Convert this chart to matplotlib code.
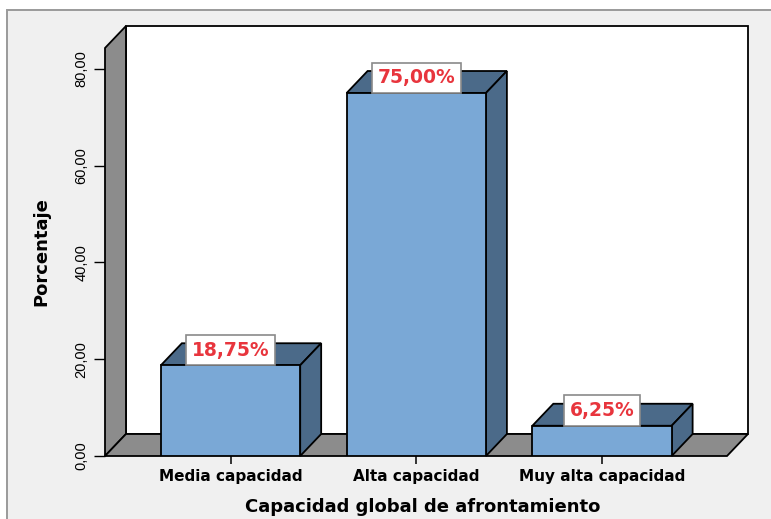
import matplotlib.pyplot as plt
from matplotlib.patches import Polygon, Rectangle

# Capacidad global de afrontamiento (% de casos)
categories = ["Media capacidad", "Alta capacidad", "Muy alta capacidad"]
percentages = [18.75, 75.00, 6.25]
y_ticks = [0, 20, 40, 60, 80]

FRONT = "#7aa8d6"
SHADE = "#4b6a89"
WALL = "#8c8c8c"
BG = "#f0f0f0"
RED = "#e8353d"

W = 771 / 100
H = 519 / 100
fig = plt.figure(figsize=(W, H), dpi=100, facecolor="white")

# outer panel frame
fig.patches.append(Rectangle((7 / 771, -0.1), 1.2, (519 - 10) / 519 + 0.1,
                             transform=fig.transFigure, facecolor=BG,
                             edgecolor="#9a9a9a", linewidth=1.4, zorder=-5))

ax = fig.add_axes([105 / 771, 63 / 519, 622 / 771, 408 / 519])
ax.set_zorder(1)
ax.patch.set_visible(False)
for s in ax.spines.values():
    s.set_visible(False)

x = list(range(len(categories)))
x0, x1 = -0.676, 2.673
ymax = 84.3
ax.set_xlim(x0, x1)
ax.set_ylim(0, ymax)

# depth of the pseudo-3D effect, in data units
dx = 21 / 186
dy = 22 / 4.84

# walls: back plane, left wall, floor
ax.add_patch(Rectangle((x0 + dx, dy), x1 - x0, ymax, facecolor="white",
                       edgecolor="black", lw=1.3, clip_on=False, zorder=1))
ax.add_patch(Polygon([(x0, 0), (x0 + dx, dy), (x0 + dx, ymax + dy), (x0, ymax)],
                     facecolor=WALL, edgecolor="black", lw=1.3,
                     clip_on=False, zorder=2))
ax.add_patch(Polygon([(x0, 0), (x1, 0), (x1 + dx, dy), (x0 + dx, dy)],
                     facecolor=WALL, edgecolor="black", lw=1.3,
                     clip_on=False, zorder=2))

bw = 0.75
bars = ax.bar(x, percentages, width=bw, color=FRONT, edgecolor="black",
              linewidth=1.3, zorder=4)

for xi, v in zip(x, percentages):
    l, r = xi - bw / 2, xi + bw / 2
    ax.add_patch(Polygon([(l, v), (r, v), (r + dx, v + dy), (l + dx, v + dy)],
                         facecolor=SHADE, edgecolor="black", lw=1.3,
                         clip_on=False, zorder=3))
    ax.add_patch(Polygon([(r, 0), (r + dx, dy), (r + dx, v + dy), (r, v)],
                         facecolor=SHADE, edgecolor="black", lw=1.3,
                         clip_on=False, zorder=3))
    ax.annotate(f"{v:.2f}".replace(".", ",") + "%", xy=(xi, v),
                xytext=(0, 4.1), textcoords="offset points",
                ha="center", va="bottom", fontsize=13.5, fontweight="bold",
                color=RED, family="DejaVu Sans", zorder=6,
                bbox=dict(boxstyle="square,pad=0.3", facecolor="white",
                          edgecolor="#8a8a8a", linewidth=1.2))

ax.set_xticks(x)
ax.set_xticklabels(categories, fontsize=11, fontweight="bold",
                   family="DejaVu Sans")
ax.tick_params(axis="x", length=6, width=1.1, pad=3, color="black")

ax.set_yticks(y_ticks)
ax.set_yticklabels([f"{t:.2f}".replace(".", ",") for t in y_ticks],
                   fontsize=10.5, family="Liberation Sans", rotation=90,
                   va="center")
ax.tick_params(axis="y", length=8, width=1.0, pad=4, color="black")

ax.set_xlabel("Capacidad global de afrontamiento", fontsize=13,
              fontweight="bold", family="DejaVu Sans", va="center")
ax.xaxis.set_label_coords((422.5 - 105) / 622, (456 - 507) / 408)
ax.set_ylabel("Porcentaje", fontsize=13, fontweight="bold",
              family="DejaVu Sans", va="center")
ax.yaxis.set_label_coords((41 - 105) / 622, (456 - 251.5) / 408)

fig.savefig("out.png", dpi=100)
